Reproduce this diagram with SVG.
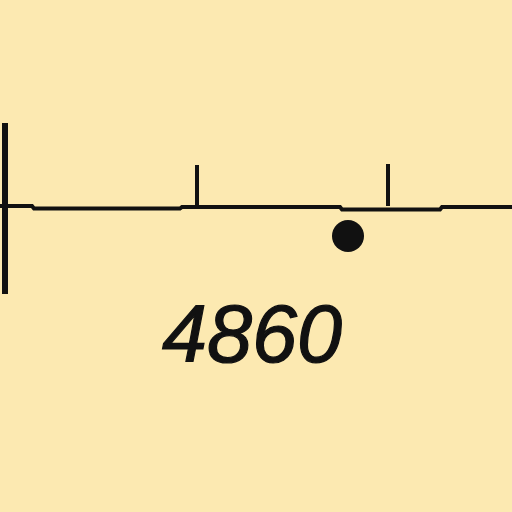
<svg xmlns="http://www.w3.org/2000/svg" width="512" height="512" viewBox="0 0 512 512">
<style>
.ln{stroke:#111;fill:none;stroke-linecap:butt;stroke-linejoin:miter}
.lbl{font-family:"Liberation Sans",Arial,sans-serif;font-style:italic;font-size:81px;fill:#111;stroke:#111;stroke-width:1.2}
</style>
<rect width="512" height="512" fill="#FCE9B1"/>
<g id="connectors">
<path class="ln" stroke-width="6" d="M5 123 V294"/>
<path class="ln" stroke-width="4" d="M0 206 H32 L34 208.5 H180 L182 207 H340 L342 209.5 H440 L442 207 H512"/>
<path class="ln" stroke-width="4" d="M197 165 V207"/>
<path class="ln" stroke-width="4" d="M388 164 V206"/>
</g>
<g id="dot"><circle cx="348" cy="236" r="16" fill="#111"/></g>
<g id="label"><text class="lbl" x="252" y="362" text-anchor="middle">4860</text></g>
</svg>
